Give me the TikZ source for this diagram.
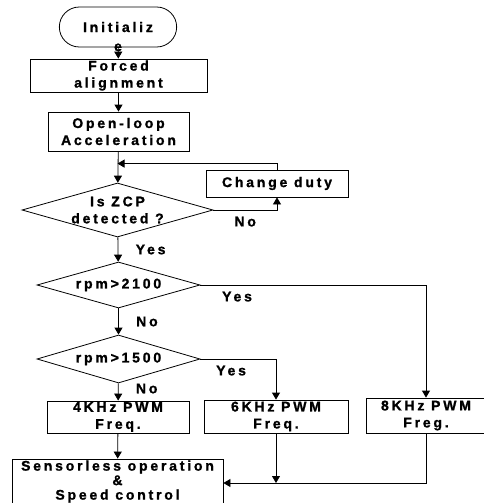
\documentclass[tikz,border=0pt]{standalone}
\usepackage{fontspec}
\setmainfont{Liberation Sans}
\newfontfamily\chartfont{Liberation Sans Bold}[LetterSpace=20,FakeBold=1.2]
\usetikzlibrary{arrows.meta,positioning,shapes.geometric,shapes.misc}

\begin{document}
\begin{tikzpicture}[x=1pt,y=-1pt,->,>={Triangle[length=7pt,width=8pt]},line width=0.8pt,
                    every node/.style={font=\chartfont\fontsize{14}{17}\selectfont},
                    box node/.style={rectangle,draw,align=center,inner sep=0pt},
                    test node/.style={diamond,draw,align=center,aspect=3.5,
                                      inner xsep=-45pt,inner ysep=-14pt}]

  \useasboundingbox (0,0) rectangle (483,503);

  \node[draw,rounded rectangle,minimum width=124pt,minimum height=40pt,
        label={[anchor=center]south:e}] (init) at (118,27) {Initializ};
  \node[box node,minimum width=177pt,minimum height=33pt] (align) at (118.5,75.5) {Forced\\alignment};
  \node[box node,minimum width=141pt,minimum height=39pt] (accel) at (118.5,131.5) {Open-loop\\Acceleration};
  \node[test node,minimum width=191pt,minimum height=54pt] (zcp) at (117.5,210) {Is ZCP\\detected ?};
  \node[box node,minimum width=142pt,minimum height=27pt] (duty) at (277,183.5) {Change duty};
  \node[test node,minimum width=163pt,minimum height=46pt] (fast) at (118.5,285) {rpm>2100};
  \node[test node,minimum width=163pt,minimum height=48pt] (mid) at (118.5,359) {rpm>1500};
  \node[box node,minimum width=142pt,minimum height=32pt] (pwmfour) at (118,417) {4KHz PWM\\Freq.};
  \node[box node,minimum width=144pt,minimum height=33pt] (pwmsix) at (276,416.5) {6KHz PWM\\Freq.};
  \node[box node,minimum width=120pt,minimum height=35pt] (pwmeight) at (426,415.5) {8KHz PWM\\Freg.};
  \node[box node,minimum width=211pt,minimum height=45pt,font=\chartfont\fontsize{14}{14.5}\selectfont]
       (run) at (117.5,481.5) {Sensorless operation\\\&\\Speed control};
  \coordinate (join) at (pwmsix.south |- 0,483);

  \draw (init) -- (align);
  \draw (align) -- (accel);
  \draw (accel) -- (zcp);
  \draw (duty.north) |- ([yshift=19pt]zcp.north);
  \draw (zcp.east) -| node[pos=0.25,below=3pt] {No} (duty.south);
  \draw (zcp) -- node[right=14pt] {Yes} (fast);
  \draw (fast) -- node[right=14pt] {No} (mid);
  \draw (fast.east) -| node[pos=0.04,below right=3pt and 0pt] {Yes} (pwmeight.north);
  \draw (mid.east) -| node[pos=0.08,below right=3pt and 0pt] {Yes} (pwmsix.north);
  \draw (mid) -- node[right=14pt,pos=0.3] {No} (pwmfour);
  \draw (pwmfour) -- (run);
  \draw (pwmsix.south) -- (join);
  \draw (pwmeight.south) |- (run.east |- join);
\end{tikzpicture}
\end{document}
